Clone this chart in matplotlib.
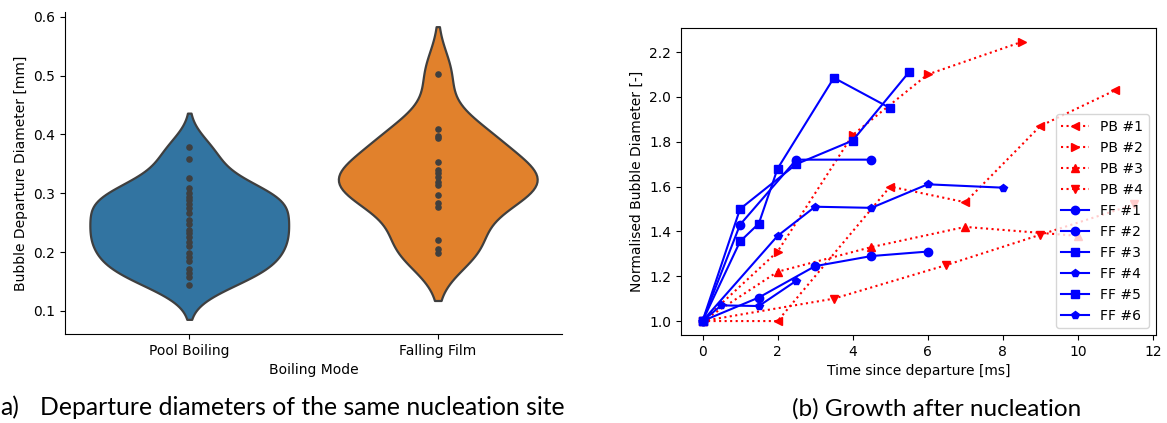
import numpy as np
import pandas as pd
import seaborn as sns
import matplotlib.pyplot as plt

# departure diameters [mm]
pool_boiling = [0.378, 0.358, 0.326, 0.309, 0.300, 0.294, 0.289, 0.282, 0.275, 0.266,
                0.255, 0.248, 0.238, 0.232, 0.225, 0.218, 0.210, 0.198, 0.192, 0.185,
                0.172, 0.165, 0.158, 0.144]
falling_film = [0.503, 0.410, 0.398, 0.394, 0.354, 0.340, 0.334, 0.327, 0.320, 0.314,
                0.297, 0.284, 0.277, 0.220, 0.205, 0.198]
modes = ['Pool Boiling', 'Falling Film']

# growth after nucleation: time [ms], normalised diameter [-]
pb1_t = [0, 2, 5, 7, 9, 11]
pb1_d = [1.0, 1.0, 1.60, 1.53, 1.87, 2.03]
pb2_t = [0, 2, 4, 6, 8.5]
pb2_d = [1.0, 1.31, 1.83, 2.10, 2.245]
pb3_t = [0, 2, 4.5, 7, 10]
pb3_d = [1.0, 1.22, 1.33, 1.42, 1.38]
pb4_t = [0, 3.5, 6.5, 9, 11.5]
pb4_d = [1.0, 1.10, 1.25, 1.385, 1.52]

ff1_t = [0, 1, 2.5, 4.5]
ff1_d = [1.0, 1.43, 1.72, 1.72]
ff2_t = [0, 1.5, 3, 4.5, 6]
ff2_d = [1.0, 1.105, 1.245, 1.29, 1.31]
ff3_t = [0, 1, 1.5, 2, 3.5, 5]
ff3_d = [1.0, 1.355, 1.435, 1.68, 2.085, 1.95]
ff4_t = [0, 0.5, 1.5, 2.5]
ff4_d = [1.0, 1.07, 1.067, 1.18]
ff5_t = [0, 1, 2.5, 4, 5.5]
ff5_d = [1.0, 1.50, 1.70, 1.805, 2.11]
ff6_t = [0, 2, 3, 4.5, 6, 8]
ff6_d = [1.0, 1.38, 1.51, 1.505, 1.61, 1.595]

pb_series = [(pb1_t, pb1_d, '<', 'PB #1'), (pb2_t, pb2_d, '>', 'PB #2'),
             (pb3_t, pb3_d, '^', 'PB #3'), (pb4_t, pb4_d, 'v', 'PB #4')]
ff_series = [(ff1_t, ff1_d, 'o', 'FF #1'), (ff2_t, ff2_d, 'o', 'FF #2'),
             (ff3_t, ff3_d, 's', 'FF #3'), (ff4_t, ff4_d, 'p', 'FF #4'),
             (ff5_t, ff5_d, 's', 'FF #5'), (ff6_t, ff6_d, 'p', 'FF #6')]

df = pd.DataFrame({
    'Boiling Mode': [modes[0]] * len(pool_boiling) + [modes[1]] * len(falling_film),
    'Bubble Departure Diameter [mm]': pool_boiling + falling_film,
})

fig = plt.figure(figsize=(11.67, 4.23), dpi=100)
ax1 = fig.add_axes([0.0557, 0.2104, 0.4259, 0.7612])
ax2 = fig.add_axes([0.5835, 0.2080, 0.4068, 0.7258])

# violins with the single observations drawn inside
sns.violinplot(data=df, x='Boiling Mode', y='Bubble Departure Diameter [mm]',
               hue='Boiling Mode', order=modes, inner='point', ax=ax1, legend=False,
               bw_adjust=0.87, linewidth=1.6, linecolor='#3f3f3f',
               inner_kws={'s': 14, 'color': '#3f3f3f'})
sns.despine(ax=ax1)
ax1.set_yticks([0.1, 0.2, 0.3, 0.4, 0.5, 0.6])

for t, d, m, lab in pb_series:
    ax2.plot(t, d, ':', color='red', marker=m, label=lab)
for t, d, m, lab in ff_series:
    ax2.plot(t, d, '-', color='blue', marker=m, label=lab)
ax2.set_xlabel('Time since departure [ms]')
ax2.set_ylabel('Normalised Bubble Diameter [-]')
ax2.set_xticks([0, 2, 4, 6, 8, 10, 12])
ax2.legend(loc='lower right')

# captions under the panels
fig.text(0.0, 0.018, 'a)', fontsize=17.8, family='Lato')
fig.text(40 / 1167, 0.018, 'Departure diameters of the same nucleation site',
         fontsize=17.8, family='Lato')
fig.text(0.803, 0.018, '(b) Growth after nucleation', fontsize=17.5,
         family='Lato', ha='center')

fig.savefig('out.png', dpi=100)
